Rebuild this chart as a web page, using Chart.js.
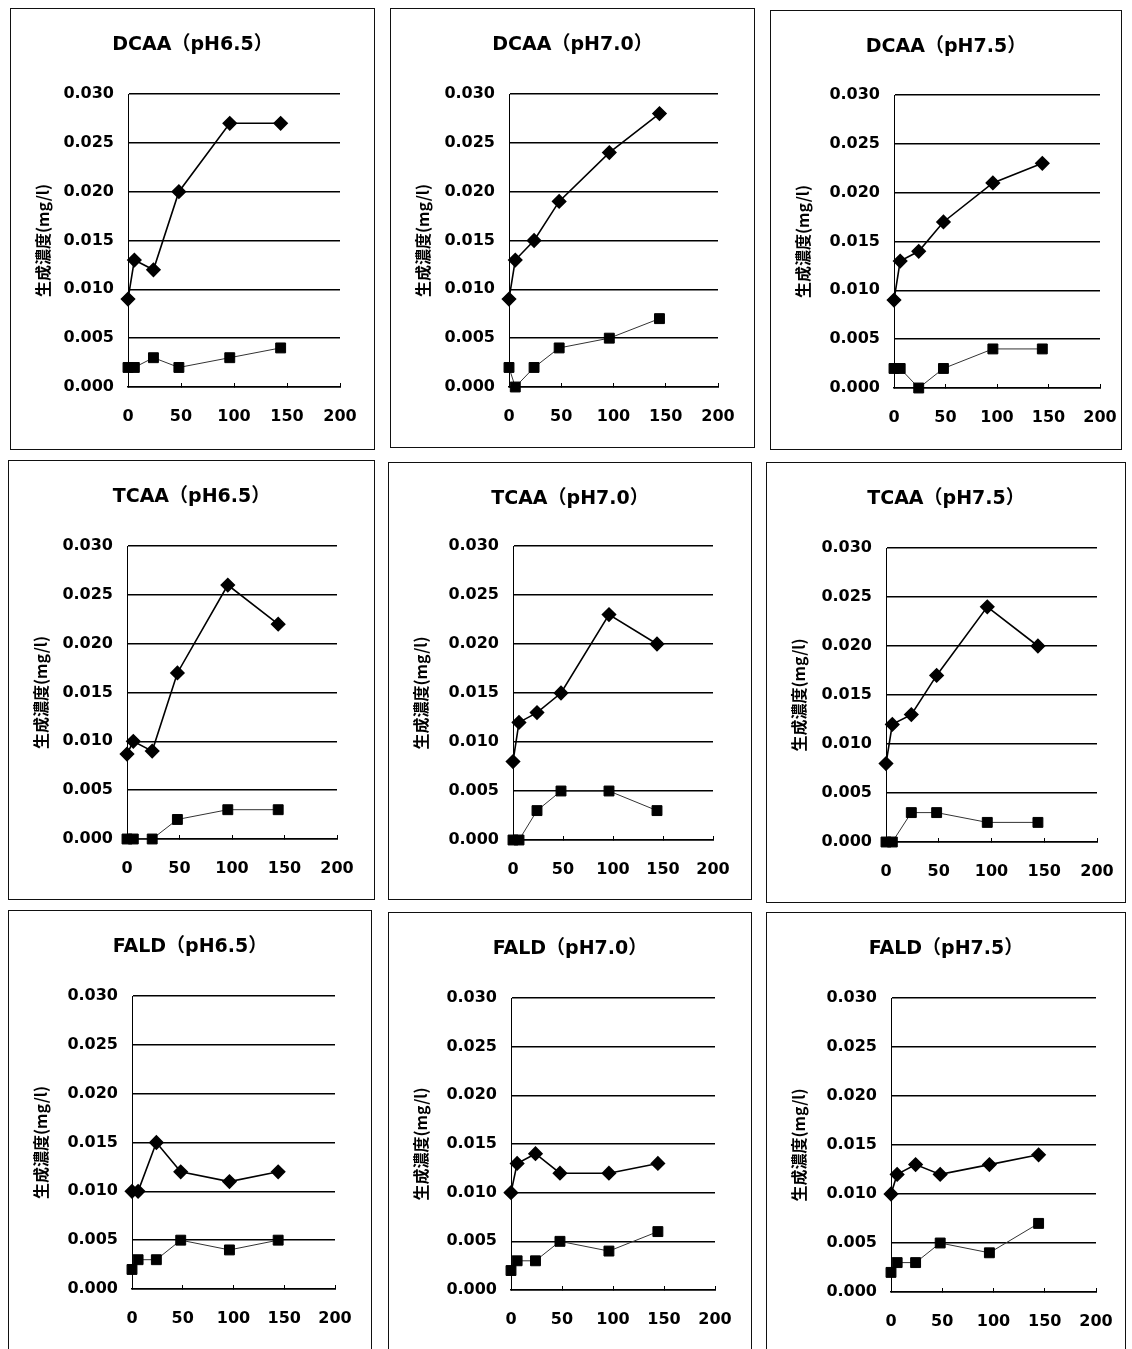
<!DOCTYPE html>
<html>
<head>
<meta charset="utf-8">
<script src="https://cdn.jsdelivr.net/npm/chart.js@4/dist/chart.umd.min.js"></script>
<style>
  html, body { margin: 0; padding: 0; background: #fff; }
  body { width: 1132px; height: 1349px; position: relative; overflow: hidden; }
  .panel { position: absolute; border: 1px solid #111; box-sizing: border-box; background: #fff; }
  .panel canvas { position: absolute; left: 0; top: 0; }
  .ttl { position: absolute; left: 0; right: 0; text-align: center; line-height: 24px;
         font: bold 19px "DejaVu Sans", "Noto Sans CJK JP", sans-serif; color: #000; }
</style>
</head>
<body>
<script>
// Sampling times (h) and axis ticks
const hours = [0, 6, 24, 48, 96, 144];
const xTicks = [0, 50, 100, 150, 200];
const yTicks = [0.000, 0.005, 0.010, 0.015, 0.020, 0.025, 0.030];
const yAxisLabel = '生成濃度(mg/l)';

const titles = [
  'DCAA（pH6.5）', 'DCAA（pH7.0）', 'DCAA（pH7.5）',
  'TCAA（pH6.5）', 'TCAA（pH7.0）', 'TCAA（pH7.5）',
  'FALD（pH6.5）', 'FALD（pH7.0）', 'FALD（pH7.5）'
];

// Upper series (diamonds) and lower series (squares), mg/l
const dcaa65Upper = [0.009, 0.013, 0.012, 0.020, 0.027, 0.027];
const dcaa65Lower = [0.002, 0.002, 0.003, 0.002, 0.003, 0.004];
const dcaa70Upper = [0.009, 0.013, 0.015, 0.019, 0.024, 0.028];
const dcaa70Lower = [0.002, 0.000, 0.002, 0.004, 0.005, 0.007];
const dcaa75Upper = [0.009, 0.013, 0.014, 0.017, 0.021, 0.023];
const dcaa75Lower = [0.002, 0.002, 0.000, 0.002, 0.004, 0.004];

const tcaa65Upper = [0.0087, 0.010, 0.009, 0.017, 0.026, 0.022];
const tcaa65Lower = [0.000, 0.000, 0.000, 0.002, 0.003, 0.003];
const tcaa70Upper = [0.008, 0.012, 0.013, 0.015, 0.023, 0.020];
const tcaa70Lower = [0.000, 0.000, 0.003, 0.005, 0.005, 0.003];
const tcaa75Upper = [0.008, 0.012, 0.013, 0.017, 0.024, 0.020];
const tcaa75Lower = [0.000, 0.000, 0.003, 0.003, 0.002, 0.002];

const fald65Upper = [0.010, 0.010, 0.015, 0.012, 0.011, 0.012];
const fald65Lower = [0.002, 0.003, 0.003, 0.005, 0.004, 0.005];
const fald70Upper = [0.010, 0.013, 0.014, 0.012, 0.012, 0.013];
const fald70Lower = [0.002, 0.003, 0.003, 0.005, 0.004, 0.006];
const fald75Upper = [0.010, 0.012, 0.013, 0.012, 0.013, 0.014];
const fald75Lower = [0.002, 0.003, 0.003, 0.005, 0.004, 0.007];

const upperSeries = [dcaa65Upper, dcaa70Upper, dcaa75Upper, tcaa65Upper, tcaa70Upper, tcaa75Upper, fald65Upper, fald70Upper, fald75Upper];
const lowerSeries = [dcaa65Lower, dcaa70Lower, dcaa75Lower, tcaa65Lower, tcaa70Lower, tcaa75Lower, fald65Lower, fald70Lower, fald75Lower];

// Page layout: panel frames [left, top, width, height] and plot areas [left, top, right, bottom]
const frames = [
  [10, 8, 365, 442], [390, 8, 365, 440], [770, 10, 352, 440],
  [8, 460, 367, 440], [388, 462, 364, 438], [766, 462, 360, 441],
  [8, 910, 364, 440], [388, 912, 364, 438], [766, 912, 360, 438]
];
const plots = [
  [128, 94, 340, 387], [509, 94, 718, 387], [894, 95, 1100, 388],
  [127, 546, 337, 839], [513, 546, 713, 840], [886, 548, 1097, 842],
  [132, 996, 335, 1289], [511, 998, 715, 1290], [891, 998, 1096, 1292]
];

const tickFont = { family: '"DejaVu Sans", sans-serif', size: 16, weight: 'bold' };
const axisTitleFont = { family: '"Noto Sans CJK JP", sans-serif', size: 16, weight: 'bold' };

function toPoints(values) {
  return hours.map((h, i) => ({ x: h, y: values[i] }));
}

frames.forEach((f, i) => {
  const [fx, fy, fw, fh] = f;
  const [pl, pt, pr, pb] = plots[i];
  const panel = document.createElement('div');
  panel.className = 'panel';
  Object.assign(panel.style, { left: fx + 'px', top: fy + 'px', width: fw + 'px', height: fh + 'px' });
  document.body.appendChild(panel);

  const innerW = fw - 2, innerH = fh - 2;
  const ox = fx + 1, oy = fy + 1;

  const canvas = document.createElement('canvas');
  canvas.width = innerW; canvas.height = innerH;
  canvas.style.width = innerW + 'px'; canvas.style.height = innerH + 'px';
  panel.appendChild(canvas);

  const ttl = document.createElement('div');
  ttl.className = 'ttl';
  ttl.style.top = '19px';
  ttl.textContent = titles[i];
  panel.appendChild(ttl);

  const padLeft = 18;
  const yWidth = pl - ox - padLeft;
  const xHeight = (oy + innerH) - pb;

  new Chart(canvas, {
    type: 'line',
    data: {
      datasets: [
        {
          label: 'upper',
          data: toPoints(upperSeries[i]),
          borderColor: '#000', backgroundColor: '#000', borderWidth: 1.6,
          pointStyle: 'rectRot', pointRadius: 6.5, pointBackgroundColor: '#000', pointBorderColor: '#000',
          tension: 0, clip: false
        },
        {
          label: 'lower',
          data: toPoints(lowerSeries[i]),
          borderColor: '#333', backgroundColor: '#000', borderWidth: 1,
          pointStyle: 'rect', pointRadius: 7, pointBackgroundColor: '#000', pointBorderColor: '#000',
          tension: 0, clip: false
        }
      ]
    },
    options: {
      responsive: false,
      animation: false,
      devicePixelRatio: 1,
      layout: { padding: { left: padLeft, top: pt - oy, right: (ox + innerW) - pr, bottom: 0 } },
      plugins: { legend: { display: false }, tooltip: { enabled: false }, title: { display: false } },
      scales: {
        x: {
          type: 'linear', min: 0, max: 200,
          afterBuildTicks: s => { s.ticks = xTicks.map(v => ({ value: v })); },
          afterFit: s => { s.height = xHeight; s.paddingLeft = 0; s.paddingRight = 0; },
          grid: { drawOnChartArea: false, drawTicks: true, tickLength: -4, color: '#000', lineWidth: 1 },
          border: { display: true, color: '#000', width: 1.5 },
          ticks: { color: '#000', font: tickFont, padding: 24, maxRotation: 0 }
        },
        y: {
          type: 'linear', min: 0, max: 0.03,
          afterBuildTicks: s => { s.ticks = yTicks.map(v => ({ value: v })); },
          afterFit: s => { s.width = yWidth; },
          grid: { drawTicks: false, color: '#000', lineWidth: 1.5 },
          border: { display: true, color: '#000', width: 1 },
          ticks: { color: '#000', font: tickFont, padding: 14, callback: v => v.toFixed(3) },
          title: { display: true, text: yAxisLabel, color: '#000', font: axisTitleFont, padding: { top: 4, bottom: 4 } }
        }
      }
    }
  });
});
</script>
</body>
</html>
